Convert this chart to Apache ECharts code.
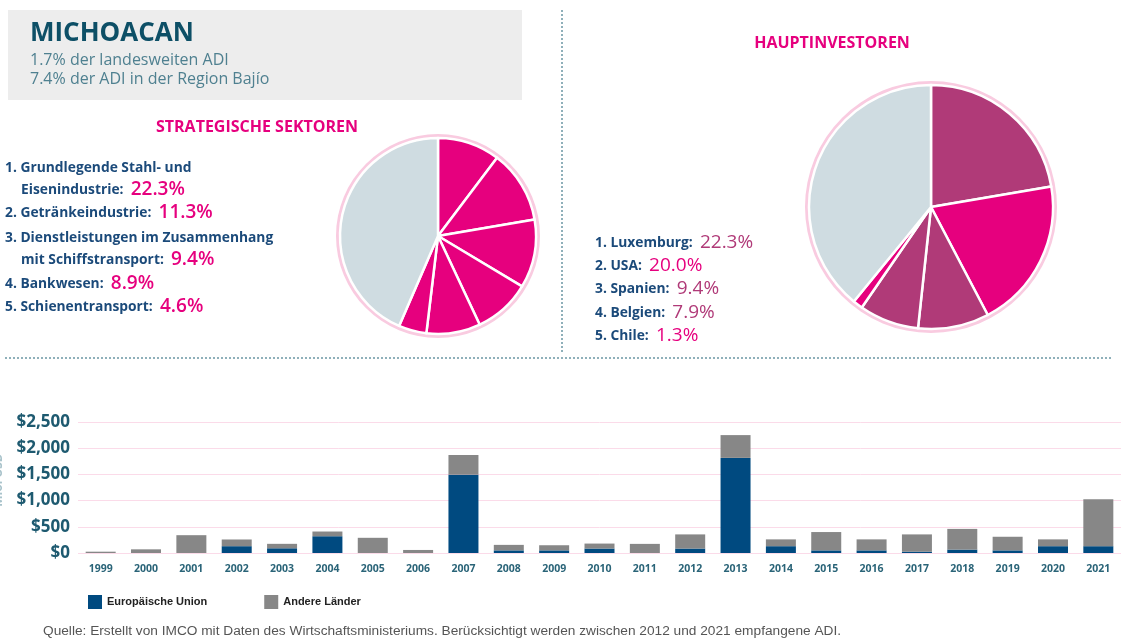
<!DOCTYPE html>
<html>
<head>
<meta charset="utf-8">
<script src="https://cdn.jsdelivr.net/npm/echarts@6/dist/echarts.min.js"></script>
<style>
html,body{margin:0;padding:0;background:#fff;}
#c{width:1121px;height:640px;}
</style>
</head>
<body>
<div id="c"></div>
<script>
// ---- Data ----
const years = ['1999','2000','2001','2002','2003','2004','2005','2006','2007','2008','2009','2010','2011','2012','2013','2014','2015','2016','2017','2018','2019','2020','2021'];
const euValues    = [0, 0, 0, 130, 90, 320, 0, 0, 1495, 50, 50, 85, 0, 85, 1815, 130, 50, 50, 25, 65, 50, 130, 130];
const otherValues = [25, 70, 340, 128, 85, 90, 290, 58, 375, 105, 98, 95, 174, 270, 435, 130, 350, 210, 330, 395, 260, 130, 895];

const sectorLabels = ['1. Grundlegende Stahl- und|Eisenindustrie:', '2. Getränkeindustrie:', '3. Dienstleistungen im Zusammenhang|mit Schiffstransport:', '4. Bankwesen:', '5. Schienentransport:'];
const sectorShares = ['22.3%', '11.3%', '9.4%', '8.9%', '4.6%'];
// pie slices as drawn (first sector appears split in two pieces), last = rest
const sectorPieValues = [10.3, 12.0, 11.3, 9.4, 8.9, 4.6, 43.5];

const investorLabels = ['1. Luxemburg:', '2. USA:', '3. Spanien:', '4. Belgien:', '5. Chile:'];
const investorShares = ['22.3%', '20.0%', '9.4%', '7.9%', '1.3%'];
const investorPieValues = [22.3, 20.0, 9.4, 7.9, 1.3, 39.1];

const legendNames = ['Europäische Union', 'Andere Länder'];

// ---- Styles ----
const PINK = '#e6007e', PLUM = '#b03a78', GREY = '#cfdce1', RING = '#f9cbe0';
const NAVY = '#1b4a7a', TEAL = '#0d4f66';
const FONT = '"Open Sans", "Noto Sans", sans-serif';

const chart = echarts.init(document.getElementById('c'), null, {renderer: 'canvas'});

const graphics = [];
graphics.push({type: 'rect', shape: {x: 8, y: 10, width: 514, height: 90}, style: {fill: '#ededed'}, z: 0});
graphics.push({type: 'text', x: 30, y: 34, style: {text: 'MICHOACAN', fill: TEAL, font: 'bold 26px ' + FONT, textVerticalAlign: 'middle'}});
graphics.push({type: 'text', x: 30, y: 60, style: {text: '1.7% der landesweiten ADI', fill: '#4f8090', font: '16px ' + FONT, textVerticalAlign: 'middle'}});
graphics.push({type: 'text', x: 30, y: 79, style: {text: '7.4% der ADI in der Region Bajío', fill: '#4f8090', font: '16px ' + FONT, textVerticalAlign: 'middle'}});
// dotted separators
graphics.push({type: 'line', shape: {x1: 562, y1: 10, x2: 562, y2: 352}, style: {stroke: '#8fb0ba', lineWidth: 2, lineDash: [2, 2]}});
graphics.push({type: 'line', shape: {x1: 5, y1: 358, x2: 1113, y2: 358}, style: {stroke: '#8fb0ba', lineWidth: 2, lineDash: [2, 2]}});
// titles
graphics.push({type: 'text', x: 257, y: 127, style: {text: 'STRATEGISCHE SEKTOREN', fill: PINK, font: 'bold 16px ' + FONT, textAlign: 'center', textVerticalAlign: 'middle'}});
graphics.push({type: 'text', x: 832, y: 43, style: {text: 'HAUPTINVESTOREN', fill: PINK, font: 'bold 16px ' + FONT, textAlign: 'center', textVerticalAlign: 'middle'}});

const rich = {
  a: {fill: NAVY, font: 'bold 13.8px ' + FONT, color: NAVY},
  p: {fill: PINK, color: PINK, font: '600 19px ' + FONT},
  q: {fill: PLUM, color: PLUM, font: '500 19px ' + FONT},
  r: {fill: PINK, color: PINK, font: '500 19px ' + FONT}
};
// sector list
const sectorY = [[168, 190], [213], [238, 260], [284], [307]];
sectorLabels.forEach((lab, i) => {
  const parts = lab.split('|');
  const ys = sectorY[i];
  if (parts.length === 2) {
    graphics.push({type: 'text', x: 5, y: ys[0], style: {text: '{a|' + parts[0] + '}', rich, textVerticalAlign: 'middle'}});
    graphics.push({type: 'text', x: 21, y: ys[1], style: {text: '{a|' + parts[1] + '  }{p|' + sectorShares[i] + '}', rich, textVerticalAlign: 'middle'}});
  } else {
    graphics.push({type: 'text', x: 5, y: ys[0], style: {text: '{a|' + parts[0] + '  }{p|' + sectorShares[i] + '}', rich, textVerticalAlign: 'middle'}});
  }
});
// investor list
const invY = [243, 266, 289, 313, 336];
const invStyle = ['q', 'r', 'q', 'q', 'r'];
investorLabels.forEach((lab, i) => {
  graphics.push({type: 'text', x: 595, y: invY[i], style: {text: '{a|' + lab + '  }{' + invStyle[i] + '|' + investorShares[i] + '}', rich, textVerticalAlign: 'middle'}});
});
// footer + clipped axis name
graphics.push({type: 'text', x: 43, y: 631, style: {text: 'Quelle: Erstellt von IMCO mit Daten des Wirtschaftsministeriums. Berücksichtigt werden zwischen 2012 und 2021 empfangene ADI.', fill: '#555', font: '13.7px "Liberation Sans", Arial, sans-serif', textVerticalAlign: 'middle'}});
graphics.push({type: 'text', x: -1, y: 480, rotation: Math.PI / 2, style: {text: 'Mio. USD', fill: '#a9c3cb', font: 'bold 12px ' + FONT, textAlign: 'center', textVerticalAlign: 'middle'}});

const sectorColors = [PINK, PINK, PINK, PINK, PINK, PINK, GREY];
const investorColors = [PLUM, PINK, PLUM, PLUM, PINK, GREY];

const option = {
  animation: false,
  backgroundColor: '#fff',
  graphic: graphics,
  legend: {
    data: legendNames,
    left: 88, top: 595, padding: 0,
    itemWidth: 14, itemHeight: 14, itemGap: 57,
    icon: 'rect',
    textStyle: {fontFamily: '"Liberation Sans Narrow", "Liberation Sans", sans-serif', fontWeight: 'bold', fontSize: 11, color: '#222'}
  },
  grid: {left: 78, right: -10, top: 422, bottom: 87, containLabel: false},
  xAxis: {
    type: 'category', data: years,
    axisLine: {show: false}, axisTick: {show: false},
    axisLabel: {margin: 11, color: '#2a6478', fontFamily: FONT, fontWeight: 'bold', fontSize: 10.5, interval: 0}
  },
  yAxis: {
    type: 'value', min: 0, max: 2500, interval: 500,
    axisLine: {show: false}, axisTick: {show: false},
    axisLabel: {margin: 8, color: '#1e5a70', fontFamily: FONT, fontWeight: 'bold', fontSize: 17,
      formatter: v => '$' + v.toLocaleString('en-US')},
    splitLine: {lineStyle: {color: '#fbdbe9', width: 1}}
  },
  series: [
    {name: legendNames[0], type: 'bar', stack: 't', data: euValues, barWidth: 30, itemStyle: {color: '#004a80'}},
    {name: legendNames[1], type: 'bar', stack: 't', data: otherValues, barWidth: 30, itemStyle: {color: '#878787'}},
    {type: 'pie', center: [438, 236], radius: [97, 102], silent: true, label: {show: false}, labelLine: {show: false},
      data: [{value: 1, itemStyle: {color: RING}}], z: 1},
    {type: 'pie', center: [438, 236], radius: [0, 98], startAngle: 90, clockwise: true, silent: true,
      label: {show: false}, labelLine: {show: false},
      data: sectorPieValues.map((v, i) => ({value: v, itemStyle: {color: sectorColors[i]}})),
      itemStyle: {borderColor: '#fff', borderWidth: 2.5}, z: 2},
    {type: 'pie', center: [931, 207], radius: [121, 126], silent: true, label: {show: false}, labelLine: {show: false},
      data: [{value: 1, itemStyle: {color: RING}}], z: 1},
    {type: 'pie', center: [931, 207], radius: [0, 122], startAngle: 90, clockwise: true, silent: true,
      label: {show: false}, labelLine: {show: false},
      data: investorPieValues.map((v, i) => ({value: v, itemStyle: {color: investorColors[i]}})),
      itemStyle: {borderColor: '#fff', borderWidth: 2.5}, z: 2}
  ]
};
chart.setOption(option);
</script>
</body>
</html>
